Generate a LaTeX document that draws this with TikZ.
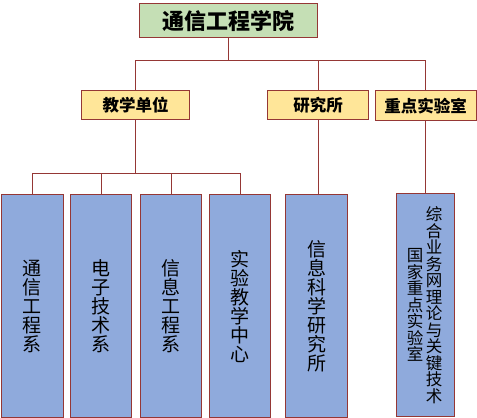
\documentclass[tikz,border=0pt]{standalone}
\usepackage{fontspec}
\setmainfont{Noto Sans CJK SC}
\definecolor{edge}{HTML}{953735}
\definecolor{gfill}{HTML}{C5DFB5}
\definecolor{yfill}{HTML}{FFE699}
\definecolor{bfill}{HTML}{8FAADC}
\tikzset{
  boxbase/.style={draw=edge, line width=1.3pt, inner sep=0pt, anchor=north west},
  topbox/.style={boxbase, fill=gfill, font=\bfseries\fontsize{22}{24}\selectfont},
  midbox/.style={boxbase, fill=yfill, font=\bfseries\fontsize{16.5}{18}\selectfont},
  lowbox/.style={boxbase, fill=bfill, minimum height=223pt},
  vtext/.style={inner sep=0pt, align=center, text=black, font=\fontsize{19}{19}\selectfont},
  vsmall/.style={inner sep=0pt, align=center, text=black, font=\fontsize{16.5}{16.5}\selectfont},
  link/.style={draw=edge, line width=1.1pt}
}
\begin{document}
\begin{tikzpicture}[x=1pt, y=-1pt]
\useasboundingbox (0,0) rectangle (477,418);
% top
\node[topbox, minimum width=178pt, minimum height=34pt] (top) at (139,3) {通信工程学院};
% middle
\node[midbox, minimum width=108pt, minimum height=29pt] (ma) at (81,90) {教学单位};
\node[midbox, minimum width=101pt, minimum height=29pt] (mb) at (267,90) {研究所};
\node[midbox, minimum width=101pt, minimum height=30pt] (mc) at (374.5,90) {重点实验室};
% bottom boxes
\node[lowbox, minimum width=62pt] (s1) at (0.7,194) {};
\node[lowbox, minimum width=61pt] (s2) at (70,194) {};
\node[lowbox, minimum width=61pt] (s3) at (140,194) {};
\node[lowbox, minimum width=61pt] (s4) at (209,194) {};
\node[lowbox, minimum width=62pt] (s5) at (285,194) {};
\node[lowbox, minimum width=58pt, minimum height=223pt] (s6) at (396,193) {};
% texts
\node[vtext] (t1) at (s1.center) {通\\信\\工\\程\\系};
\node[vtext] (t2) at (s2.center) {电\\子\\技\\术\\系};
\node[vtext] (t3) at (s3.center) {信\\息\\工\\程\\系};
\node[vtext] (t4) at (s4.center) {实\\验\\教\\学\\中\\心};
\node[vtext] (t5) at (s5.center) {信\\息\\科\\学\\研\\究\\所};
\node[vsmall] (t6a) at ([xshift=8.5pt]s6.center) {综\\合\\业\\务\\网\\理\\论\\与\\关\\键\\技\\术};
\node[vsmall] (t6b) at ([xshift=-10.5pt]s6.center) {国\\家\\重\\点\\实\\验\\室};
% connectors
\draw[link] (top.south) -- ++(0,22) coordinate (bus1) -| (ma.north);
\draw[link] (bus1) -| (mb.north);
\draw[link] (bus1) -| (mc.north);
\draw[link] (ma.south) -- ++(0,53) coordinate (bus2) -| (s1.north);
\draw[link] (bus2) -| (s2.north);
\draw[link] (bus2) -| (s3.north);
\draw[link] (bus2) -| (s4.north);
\draw[link] (mb.south) -- (mb.south |- s5.north);
\draw[link] (mc.south) -- (mc.south |- s6.north);
\end{tikzpicture}
\end{document}
